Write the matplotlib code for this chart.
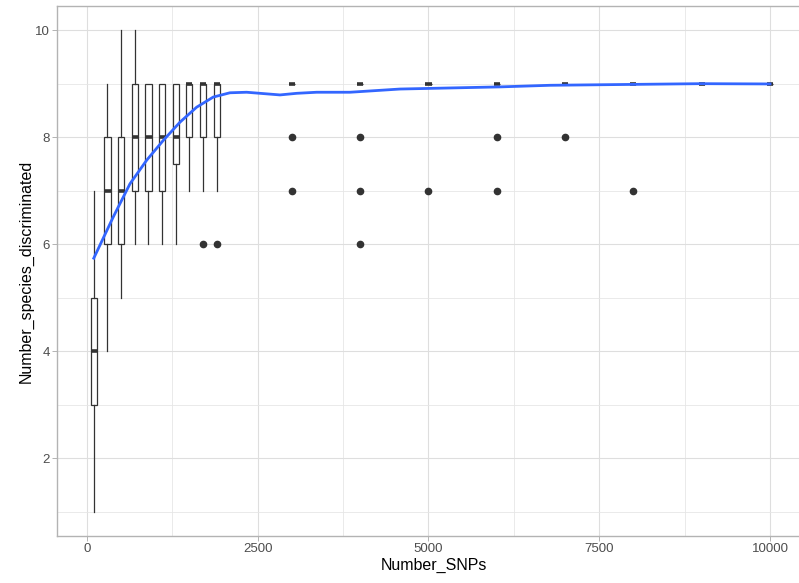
import matplotlib
matplotlib.use("Agg")
import matplotlib.pyplot as plt
from matplotlib.ticker import MultipleLocator

plt.rcParams['font.family'] = ['Liberation Sans', 'DejaVu Sans']

# Résumé des boîtes par nombre de SNPs
snps = [100, 300, 500, 700, 900, 1100, 1300, 1500, 1700, 1900,
        3000, 4000, 5000, 6000, 7000, 8000, 9000, 10000]
whis_lo = [1, 4, 5, 6, 6, 6, 6, 7, 7, 7, 9, 9, 9, 9, 9, 9, 9, 9]
q1 = [3, 6, 6, 7, 7, 7, 7.5, 8, 8, 8, 9, 9, 9, 9, 9, 9, 9, 9]
med = [4, 7, 7, 8, 8, 8, 8, 9, 9, 9, 9, 9, 9, 9, 9, 9, 9, 9]
q3 = [5, 8, 8, 9, 9, 9, 9, 9, 9, 9, 9, 9, 9, 9, 9, 9, 9, 9]
whis_hi = [7, 9, 10, 10, 9, 9, 9, 9, 9, 9, 9, 9, 9, 9, 9, 9, 9, 9]
outliers = [[], [], [], [], [], [], [], [], [6], [6],
            [8, 7], [8, 7, 6], [7], [8, 7], [8], [7], [], []]

# Courbe lissée (loess)
smooth_x = [100, 385, 630, 874, 1117, 1361, 1605, 1849, 2093, 2338,
            2630, 2826, 3070, 3363, 3850, 4583, 5314, 6046, 6779,
            7511, 8975, 10000]
smooth_y = [5.74, 6.51, 7.13, 7.57, 7.94, 8.28, 8.56, 8.75, 8.83, 8.84,
            8.81, 8.79, 8.82, 8.84, 8.84, 8.90, 8.92, 8.94, 8.97,
            8.98, 9.0, 8.995]

fig = plt.figure(figsize=(7.99, 5.83), dpi=100)
ax = fig.add_axes([0.0713, 0.0806, 0.9432, 0.909])

stats = []
for i in range(len(snps)):
    stats.append(dict(med=med[i], q1=q1[i], q3=q3[i],
                      whislo=whis_lo[i], whishi=whis_hi[i],
                      fliers=outliers[i]))

ax.bxp(stats, positions=snps, widths=90, patch_artist=True,
       showcaps=False, manage_ticks=False,
       boxprops=dict(facecolor='white', edgecolor='#333333', linewidth=0.9),
       whiskerprops=dict(color='#333333', linewidth=0.9),
       medianprops=dict(color='#333333', linewidth=2.6, solid_capstyle='butt'),
       flierprops=dict(marker='o', markerfacecolor='#333333',
                       markeredgecolor='#333333', markersize=4.5))

ax.plot(smooth_x, smooth_y, color='#3366FF', linewidth=2, zorder=5)

ax.set_xlim(-439, 10594)
ax.set_ylim(0.55, 10.45)
ax.xaxis.set_major_locator(MultipleLocator(2500))
ax.xaxis.set_minor_locator(MultipleLocator(1250))
ax.yaxis.set_major_locator(MultipleLocator(2))
ax.yaxis.set_minor_locator(MultipleLocator(1))

ax.grid(True, which='major', color='#DEDEDE', linewidth=0.8)
ax.grid(True, which='minor', color='#E6E6E6', linewidth=0.6)
ax.set_axisbelow(True)

for s in ax.spines.values():
    s.set_color('#B3B3B3')
    s.set_linewidth(1.0)

ax.tick_params(which='major', color='#B3B3B3', length=3.5, width=0.7,
               labelsize=9.5, labelcolor='#4D4D4D', pad=1.5)
ax.tick_params(which='minor', length=0)

ax.set_xlabel('Number_SNPs', fontsize=11.5, labelpad=2)
ax.set_ylabel('Number_species_discriminated', fontsize=11.5, labelpad=1)

fig.savefig('out.png', dpi=100)
